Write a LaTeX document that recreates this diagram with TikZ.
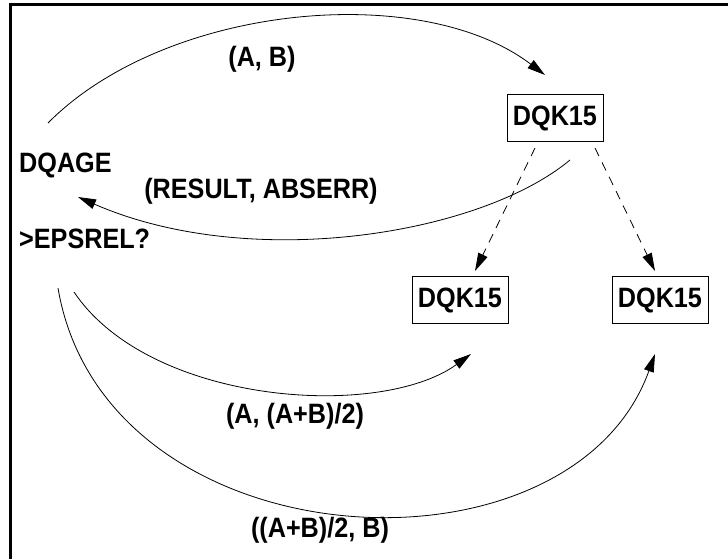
\documentclass[tikz,border=0pt]{standalone}
\usepackage{fontspec}
\setmainfont{Liberation Sans}[FakeStretch=0.9]
\usetikzlibrary{arrows.meta}
\begin{document}
\begin{tikzpicture}[x=1pt,y=-1pt,
  lbl/.style={font=\fontsize{28}{31}\selectfont\bfseries, inner sep=0pt},
  box/.style={draw, line width=0.9pt, minimum width=96pt, minimum height=47pt, inner sep=0pt, font=\fontsize{28}{31}\selectfont\bfseries},
  conn/.style={line width=0.8pt, -{Triangle[length=18pt,width=10pt]}},
  dconn/.style={conn, dash pattern=on 9pt off 7pt},
  frame/.style={line width=3pt}]
\useasboundingbox (0,0) rectangle (728,559);
\draw[frame] (10,559) -- (10,5) -- (728,5);
% boxes
\node[box] (top) at (555,118) {DQK15};
\node[box] (left) at (460,300) {DQK15};
\node[box] (right) at (660,300) {DQK15};
% text labels
\node[lbl, anchor=base west] (dqage) at (19,172) {DQAGE};
\node[lbl, anchor=base west] (eps) at (19,248) {>EPSREL?};
\node[lbl, anchor=base] (ab) at (262,67) {(A, B)};
\node[lbl, anchor=base] (res) at (261,198) {(RESULT, ABSERR)};
\node[lbl, anchor=base] (half1) at (295,423) {(A, (A+B)/2)};
\node[lbl, anchor=base] (half2) at (320,537) {((A+B)/2, B)};
% connector ends
\coordinate (abS) at (48,123);
\coordinate (abE) at (545,75);
\coordinate (resS) at (570,160);
\coordinate (resE) at (78,197);
\coordinate (dlS) at (535,148);
\coordinate (dlE) at (475,271);
\coordinate (drS) at (595,148);
\coordinate (drE) at (655,271);
\coordinate (h1S) at (74,292);
\coordinate (h1E) at (471,354);
\coordinate (h2S) at (58,288);
\coordinate (h2E) at (655,354);
% connectors
\draw[conn] (abS) .. controls (165,5) and (420,-20) .. (abE);
\draw[conn] (resS) .. controls (480,235) and (250,272) .. (resE);
\draw[dconn] (dlS) -- (dlE);
\draw[dconn] (drS) -- (drE);
\draw[conn] (h1S) .. controls (150,405) and (380,420) .. (h1E);
\draw[conn] (h2S) .. controls (105,565) and (570,590) .. (h2E);
\end{tikzpicture}
\end{document}
